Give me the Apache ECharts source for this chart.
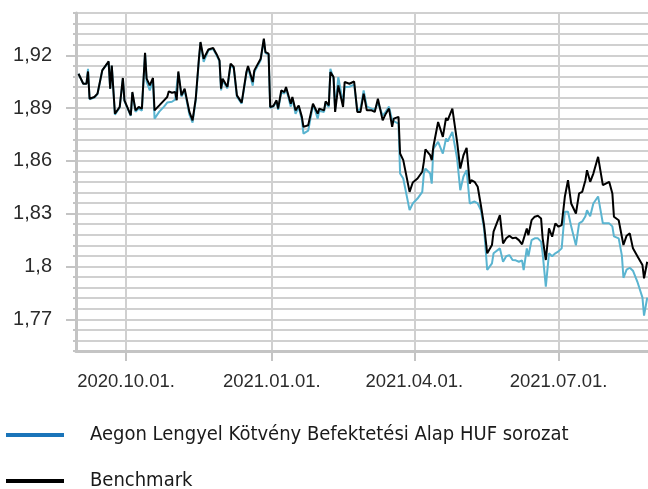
<!DOCTYPE html>
<html>
<head>
<meta charset="utf-8">
<script src="https://cdn.jsdelivr.net/npm/echarts@6/dist/echarts.min.js"></script>
<style>html,body{margin:0;padding:0;background:#fff}#c{width:648px;height:489px}</style>
</head>
<body>
<div id="c"></div>
<script>
const seriesNames = ['Aegon Lengyel Kötvény Befektetési Alap HUF sorozat', 'Benchmark'];
const dates = ['2020-09-01','2020-09-04','2020-09-06','2020-09-07','2020-09-08','2020-09-11','2020-09-13','2020-09-16','2020-09-19','2020-09-20',
'2020-09-21','2020-09-22','2020-09-24','2020-09-27','2020-09-29','2020-09-30','2020-10-04','2020-10-05','2020-10-06','2020-10-07',
'2020-10-09','2020-10-11','2020-10-13','2020-10-14','2020-10-16','2020-10-18','2020-10-19','2020-10-22','2020-10-25','2020-10-27',
'2020-10-28','2020-10-30','2020-11-01','2020-11-02','2020-11-03','2020-11-05','2020-11-07','2020-11-10','2020-11-12','2020-11-14',
'2020-11-16','2020-11-17','2020-11-19','2020-11-22','2020-11-25','2020-11-27','2020-11-29','2020-11-30','2020-12-01','2020-12-04',
'2020-12-06','2020-12-08','2020-12-10','2020-12-13','2020-12-16','2020-12-17','2020-12-20','2020-12-21','2020-12-25','2020-12-27',
'2020-12-28','2020-12-30','2020-12-31','2021-01-02','2021-01-04','2021-01-05','2021-01-07','2021-01-09','2021-01-10','2021-01-13',
'2021-01-14','2021-01-16','2021-01-18','2021-01-20','2021-01-21','2021-01-24','2021-01-27','2021-01-28','2021-01-30','2021-01-31',
'2021-02-03','2021-02-04','2021-02-06','2021-02-07','2021-02-09','2021-02-10','2021-02-12','2021-02-15','2021-02-16','2021-02-19',
'2021-02-22','2021-02-24','2021-02-26','2021-02-28','2021-03-02','2021-03-05','2021-03-07','2021-03-09','2021-03-12','2021-03-14',
'2021-03-16','2021-03-18','2021-03-19','2021-03-22','2021-03-23','2021-03-25','2021-03-29','2021-03-30','2021-03-31','2021-04-03',
'2021-04-06','2021-04-07','2021-04-08','2021-04-11','2021-04-12','2021-04-13','2021-04-16','2021-04-17','2021-04-19','2021-04-21',
'2021-04-22','2021-04-25','2021-04-28','2021-04-30','2021-05-02','2021-05-04','2021-05-06','2021-05-07','2021-05-09','2021-05-11',
'2021-05-13','2021-05-15','2021-05-17','2021-05-20','2021-05-21','2021-05-25','2021-05-27','2021-05-29','2021-05-31','2021-06-02',
'2021-06-04','2021-06-06','2021-06-08','2021-06-09','2021-06-11','2021-06-12','2021-06-14','2021-06-16','2021-06-18','2021-06-20',
'2021-06-21','2021-06-23','2021-06-25','2021-06-27','2021-06-29','2021-07-01','2021-07-03','2021-07-05','2021-07-07','2021-07-09',
'2021-07-12','2021-07-14','2021-07-16','2021-07-18','2021-07-19','2021-07-21','2021-07-23','2021-07-26','2021-07-29','2021-08-02',
'2021-08-04','2021-08-05','2021-08-08','2021-08-10','2021-08-11','2021-08-13','2021-08-15','2021-08-17','2021-08-20','2021-08-23',
'2021-08-24','2021-08-26'];
const fundValues = [1.9095,1.9038,1.9038,1.9123,1.8950,1.8960,1.8980,1.9114,1.9150,1.9162,
1.9008,1.9140,1.8862,1.8903,1.9068,1.8940,1.8855,1.8985,1.8990,1.8878,
1.8897,1.8885,1.9212,1.9050,1.9000,1.9061,1.8840,1.8880,1.8908,1.8931,
1.8942,1.8936,1.8948,1.8942,1.9100,1.8965,1.8999,1.8863,1.8817,1.8945,
1.9170,1.9270,1.9163,1.9228,1.9236,1.9203,1.9165,1.9000,1.9055,1.9012,
1.9145,1.9125,1.8965,1.8925,1.9098,1.9130,1.9027,1.9105,1.9172,1.9288,
1.9212,1.9203,1.8902,1.8908,1.8938,1.8890,1.8987,1.8983,1.9012,1.8908,
1.8955,1.8868,1.8905,1.8835,1.8755,1.8772,1.8914,1.8898,1.8840,1.8885,
1.8878,1.8930,1.8905,1.9123,1.9067,1.8897,1.9076,1.8925,1.9020,1.9021,
1.9033,1.8885,1.8897,1.9000,1.8908,1.8897,1.8891,1.8931,1.8857,1.8880,
1.8908,1.8830,1.8829,1.8812,1.8528,1.8500,1.8320,1.8320,1.8358,1.8386,
1.8424,1.8528,1.8556,1.8528,1.8471,1.8670,1.8708,1.8698,1.8641,1.8727,
1.8710,1.8765,1.8613,1.8433,1.8511,1.8547,1.8358,1.8358,1.8369,1.8358,
1.8320,1.8216,1.7980,1.8018,1.8075,1.8103,1.8027,1.8058,1.8065,1.8037,
1.8035,1.8027,1.8035,1.7980,1.8103,1.8058,1.8150,1.8160,1.8160,1.8141,
1.8075,1.7886,1.8075,1.8058,1.8075,1.8086,1.8103,1.8311,1.8311,1.8228,
1.8120,1.8245,1.8256,1.8285,1.8319,1.8285,1.8358,1.8398,1.8245,1.8245,
1.8228,1.8171,1.8160,1.8063,1.7936,1.7982,1.7993,1.7976,1.7908,1.7823,
1.7721,1.7823];
const benchValues = [1.9095,1.9038,1.9038,1.9108,1.8953,1.8963,1.8982,1.9114,1.9152,1.9165,
1.9010,1.9142,1.8868,1.8906,1.9071,1.8944,1.8859,1.8991,1.8995,1.8887,
1.8906,1.8897,1.9214,1.9067,1.9029,1.9071,1.8887,1.8915,1.8944,1.8963,
1.8995,1.8987,1.8991,1.8944,1.9108,1.8972,1.9010,1.8878,1.8830,1.8953,
1.9180,1.9275,1.9180,1.9233,1.9241,1.9209,1.9171,1.9010,1.9067,1.9020,
1.9152,1.9133,1.8972,1.8931,1.9105,1.9139,1.9048,1.9114,1.9180,1.9294,
1.9218,1.9209,1.8906,1.8912,1.8944,1.8897,1.9000,1.8991,1.9020,1.8925,
1.8963,1.8887,1.8915,1.8850,1.8793,1.8802,1.8925,1.8906,1.8868,1.8897,
1.8887,1.8938,1.8915,1.9105,1.9076,1.8878,1.9029,1.8906,1.9048,1.9038,
1.9051,1.8878,1.8878,1.8982,1.8887,1.8887,1.8878,1.8953,1.8830,1.8868,
1.8897,1.8793,1.8840,1.8850,1.8642,1.8604,1.8424,1.8424,1.8477,1.8500,
1.8538,1.8594,1.8666,1.8632,1.8604,1.8680,1.8821,1.8812,1.8736,1.8844,
1.8830,1.8897,1.8708,1.8556,1.8632,1.8674,1.8471,1.8490,1.8481,1.8453,
1.8348,1.8235,1.8075,1.8122,1.8198,1.8292,1.8131,1.8160,1.8175,1.8160,
1.8164,1.8150,1.8126,1.8122,1.8216,1.8178,1.8263,1.8283,1.8288,1.8273,
1.8160,1.8037,1.8216,1.8169,1.8245,1.8226,1.8235,1.8396,1.8490,1.8358,
1.8301,1.8415,1.8424,1.8490,1.8547,1.8481,1.8528,1.8623,1.8462,1.8481,
1.8415,1.8283,1.8263,1.8169,1.8122,1.8175,1.8188,1.8103,1.8056,1.8008,
1.7933,1.8027];
const yTickLabels = [1.77, 1.80, 1.83, 1.86, 1.89, 1.92];
const xTickDates = ['2020-10-01', '2021-01-01', '2021-04-01', '2021-07-01'];
const legendColors = ['#1a74b9', '#000000'];
const lineColors = ['#5ab4d0', '#000000'];

function toTs(s){ const p = s.split('-').map(Number); return new Date(p[0], p[1]-1, p[2]).getTime(); }
const xTicks = xTickDates.map(toTs);
const pad = n => (n < 10 ? '0' : '') + n;
const labelFont = 'Liberation Sans';
const legendFont = "'DejaVu Sans Condensed', 'Roboto', sans-serif";
const gridCol = '#d0d0d0', axisCol = '#c4c4c4';

const chart = echarts.init(document.getElementById('c'), null, {renderer: 'canvas'});
const yBase = {type: 'value', min: 1.752, max: 1.944, interval: 0.006, position: 'left'};
const legendBase = {orient: 'horizontal', left: 6, padding: 0, icon: 'rect', itemWidth: 58, itemHeight: 4,
  textStyle: {fontFamily: legendFont, fontSize: 20, color: '#1a1a1a', padding: [0, 0, 0, 21]}};
chart.setOption({
  animation: false,
  backgroundColor: '#fff',
  grid: {left: 76, right: 0, top: 13, bottom: 138, containLabel: false},
  legend: [
    Object.assign({}, legendBase, {top: 425, data: [{name: seriesNames[0], itemStyle: {color: legendColors[0]}}]}),
    Object.assign({}, legendBase, {top: 471, data: [{name: seriesNames[1], itemStyle: {color: legendColors[1]}}]})
  ],
  xAxis: {
    type: 'value',
    min: new Date(2020, 7, 30, 10).getTime(),
    max: new Date(2021, 7, 26, 12).getTime(),
    axisLine: {show: true, lineStyle: {color: axisCol, width: 3}},
    axisTick: {show: true, customValues: xTicks, length: 10, lineStyle: {color: axisCol, width: 2}},
    axisLabel: {customValues: xTicks, margin: 21, fontFamily: labelFont, fontSize: 18.5, color: '#2b2b2b',
      formatter: v => { const d = new Date(v); return d.getFullYear() + '.' + pad(d.getMonth()+1) + '.' + pad(d.getDate()) + '.'; }},
    splitLine: {show: true, lineStyle: {color: gridCol, width: 2}}
  },
  yAxis: [
    Object.assign({}, yBase, {
      axisLine: {show: true, lineStyle: {color: axisCol, width: 3}},
      axisTick: {show: true, length: 3, lineStyle: {color: axisCol, width: 2}},
      axisLabel: {show: false},
      splitLine: {show: true, lineStyle: {color: gridCol, width: 2}}
    }),
    Object.assign({}, yBase, {
      axisLine: {show: false},
      axisTick: {show: true, customValues: yTickLabels, length: 10, lineStyle: {color: axisCol, width: 2}},
      axisLabel: {customValues: yTickLabels, margin: 24, fontFamily: labelFont, fontSize: 20, color: '#2b2b2b',
        formatter: v => String(+(+v).toFixed(3)).replace('.', ',')},
      splitLine: {show: false}
    })
  ],
  series: [
    {name: seriesNames[0], type: 'line', showSymbol: false, symbol: 'none', yAxisIndex: 0,
     lineStyle: {color: lineColors[0], width: 2}, itemStyle: {color: lineColors[0]},
     data: dates.map((d, i) => [toTs(d), fundValues[i]])},
    {name: seriesNames[1], type: 'line', showSymbol: false, symbol: 'none', yAxisIndex: 0,
     lineStyle: {color: lineColors[1], width: 2}, itemStyle: {color: lineColors[1]},
     data: dates.map((d, i) => [toTs(d), benchValues[i]])}
  ]
});
</script>
</body>
</html>
